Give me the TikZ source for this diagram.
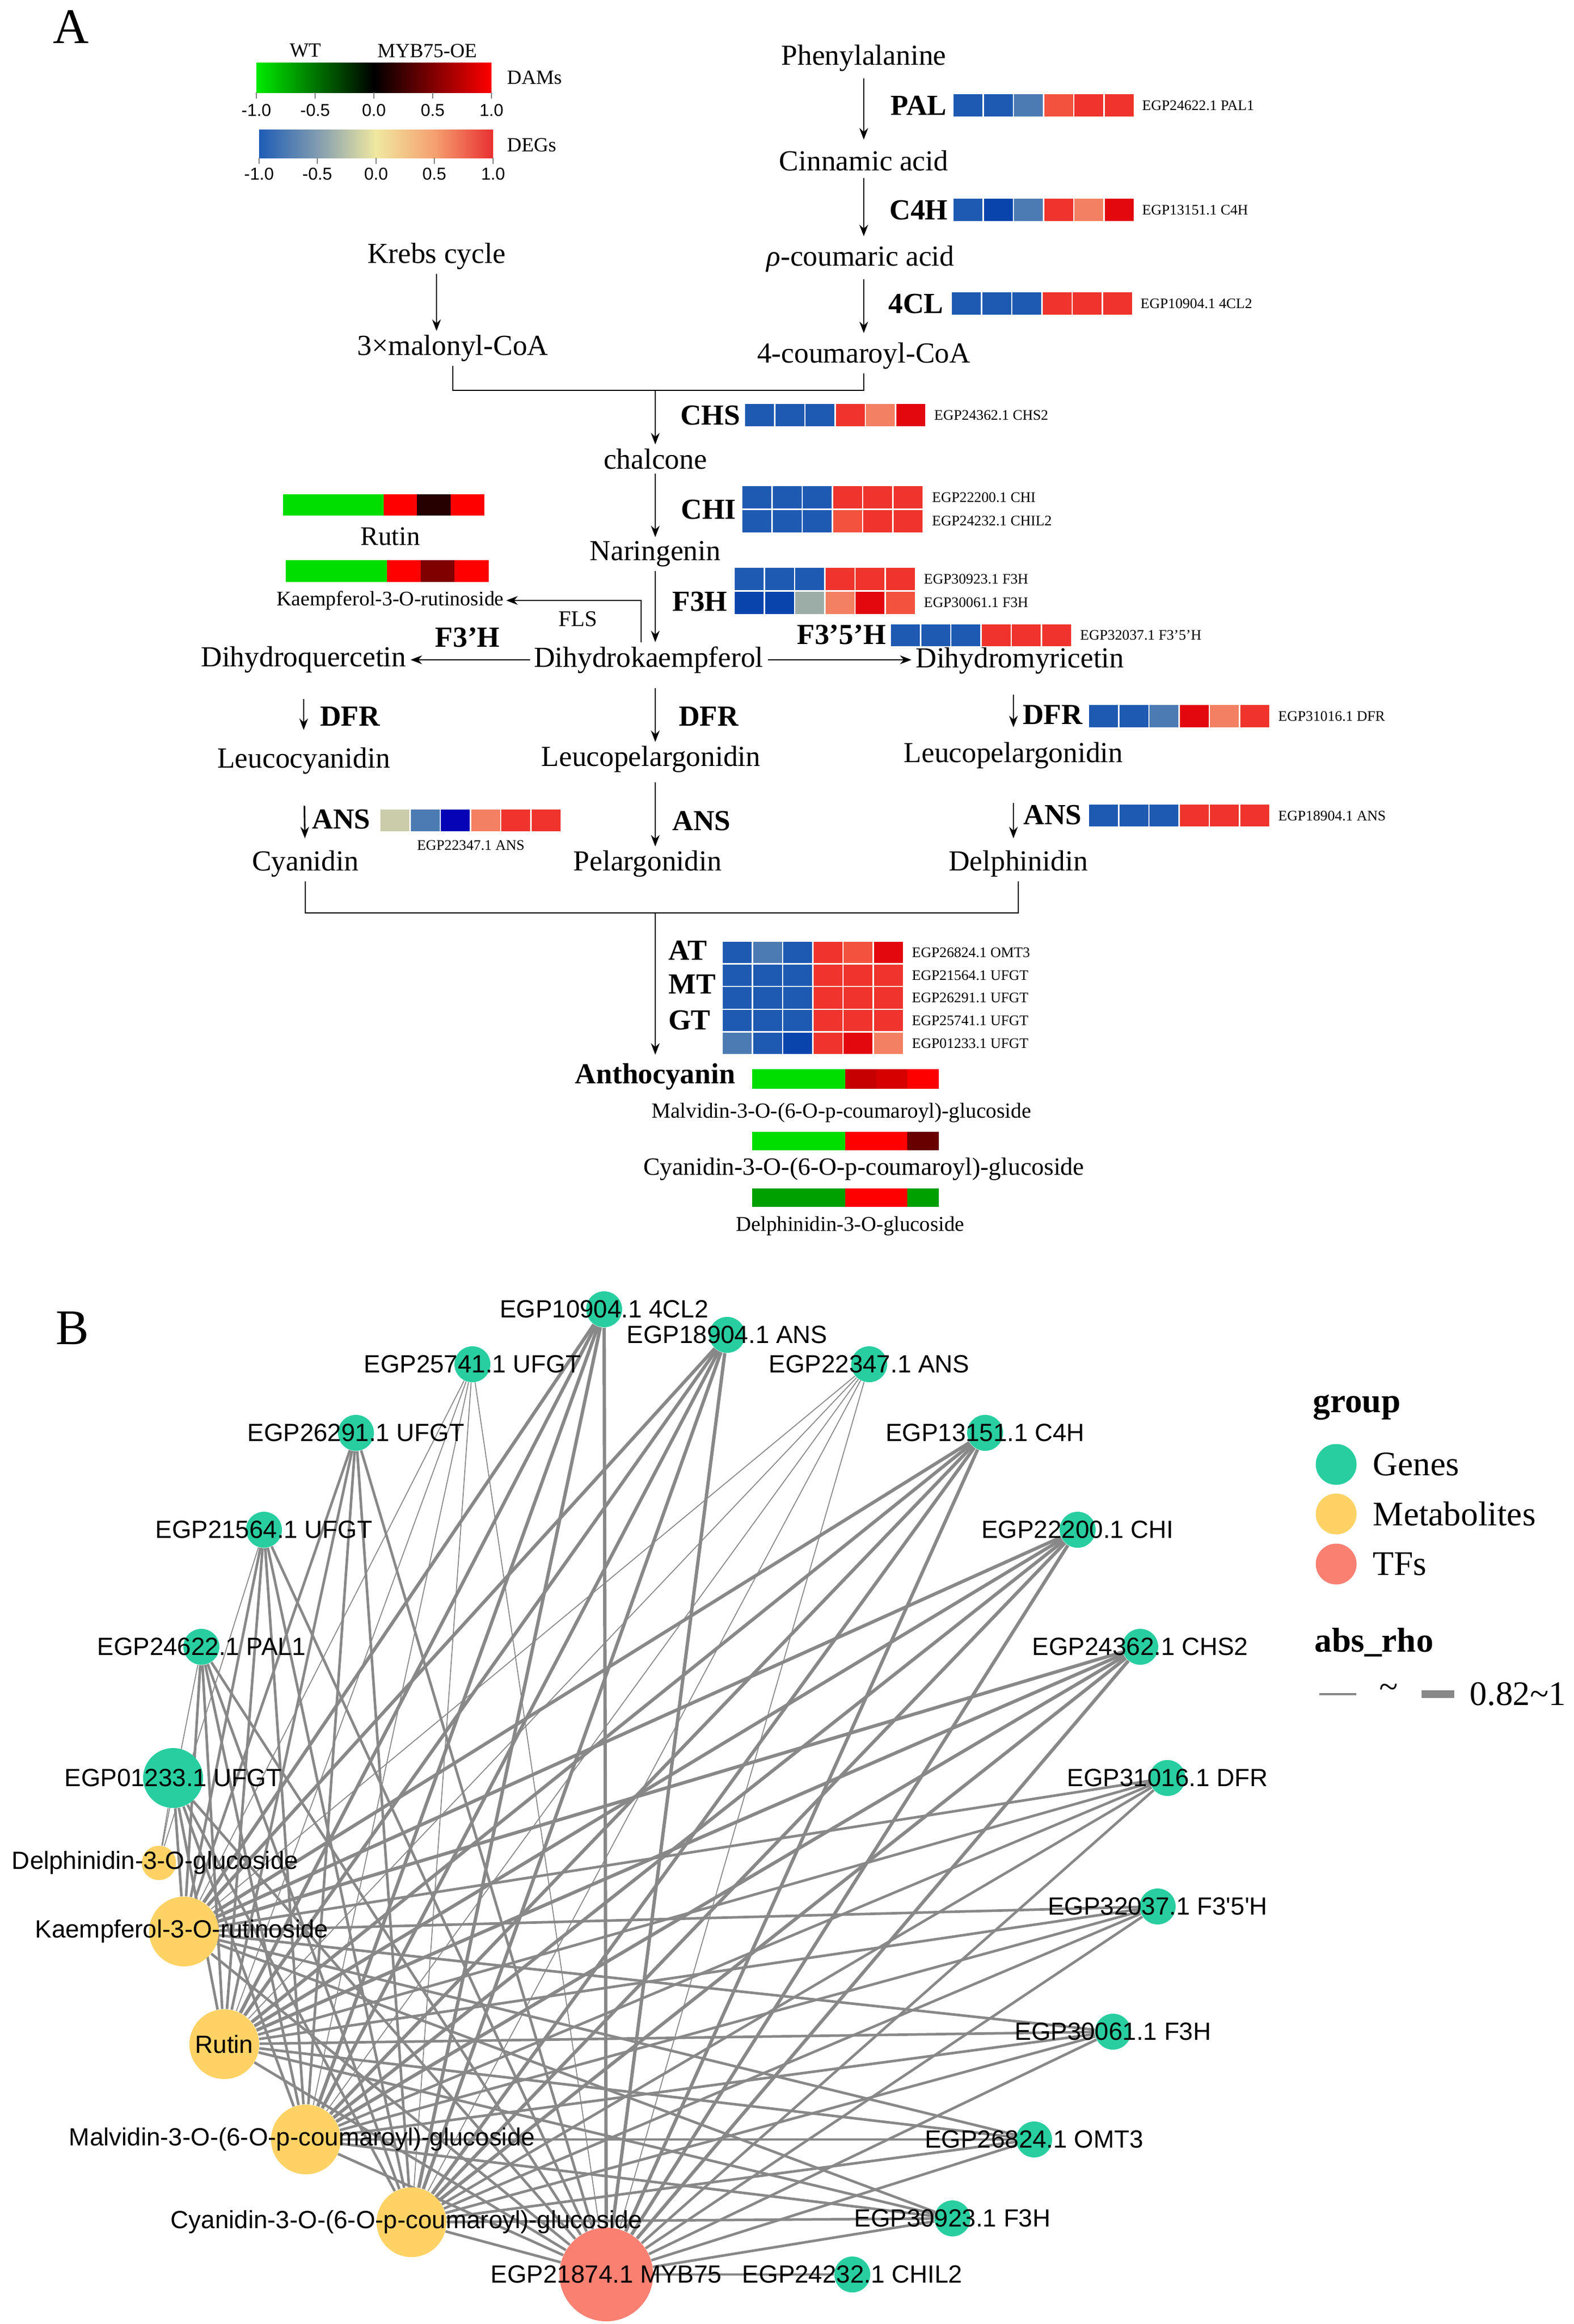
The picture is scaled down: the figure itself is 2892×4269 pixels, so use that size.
\documentclass[tikz,border=0pt]{standalone}
\usepackage{fontspec}
\setmainfont{Liberation Serif}
\newfontfamily\netfont{Liberation Sans}
\usetikzlibrary{arrows.meta,backgrounds}

% heat map colours (DEGs)
\definecolor{hmBlue}{RGB}{30,90,178}
\definecolor{hmBlueDk}{RGB}{8,68,172}
\definecolor{hmSteel}{RGB}{76,122,178}
\definecolor{hmRed}{RGB}{238,52,44}
\definecolor{hmRedOr}{RGB}{242,82,62}
\definecolor{hmSalmon}{RGB}{243,128,98}
\definecolor{hmDeep}{RGB}{226,8,14}
\definecolor{hmGrey}{RGB}{156,172,166}
\definecolor{hmKhaki}{RGB}{202,204,170}
\definecolor{hmNavy}{RGB}{4,4,182}
% metabolite colours (DAMs)
\definecolor{dmGreenL}{RGB}{0,235,0}
\definecolor{dmGreen}{RGB}{0,222,0}
\definecolor{dmGreenDk}{RGB}{0,160,0}
\definecolor{dmRed}{RGB}{255,0,0}
\definecolor{dmRedDk}{RGB}{198,0,0}
\definecolor{dmRedMd}{RGB}{214,0,0}
\definecolor{dmBlack}{RGB}{38,0,0}
\definecolor{dmMaroon}{RGB}{128,0,0}
\definecolor{dmMaroonDk}{RGB}{105,0,0}
% key colours
\definecolor{degA}{RGB}{30,92,182}
\definecolor{degB}{RGB}{128,156,176}
\definecolor{degC}{RGB}{240,232,160}
\definecolor{degD}{RGB}{245,160,112}
\definecolor{degE}{RGB}{232,48,48}
% network colours
\definecolor{geneCol}{RGB}{40,206,160}
\definecolor{metaCol}{RGB}{254,210,100}
\definecolor{tfCol}{RGB}{250,128,114}
\definecolor{edgeCol}{RGB}{136,136,136}

\newcommand{\fsMain}{\fontsize{15.2}{17}\selectfont}
\newcommand{\fsGene}{\fontsize{7.6}{9}\selectfont}
\newcommand{\fsKey}{\fontsize{10.5}{12}\selectfont}
\newcommand{\fsTick}{\netfont\fontsize{9}{10}\selectfont}
\newcommand{\fsNet}{\netfont\fontsize{13}{15}\selectfont}
\newcommand{\fsLeg}{\fontsize{18}{20}\selectfont}
\newcommand{\fsPanel}{\fontsize{26}{30}\selectfont}

% one row of a heat map: x, top y, cell height, colours
\newcommand{\heatrow}[4]{%
  \foreach \hc [count=\hi from 0] in {#4}
    \filldraw[fill=\hc, draw=white, line width=0.7pt] ({#1+55.5*\hi},#2) rectangle ++(55.5,#3);
}
% one metabolite bar: x, top y, cell width, height, colours
\newcommand{\metbar}[5]{%
  \foreach \mc [count=\mi from 0] in {#5}
    \fill[\mc] ({#1+#3*\mi},#2) rectangle ++({#3+0.8},#4);
}

\begin{document}
\begin{tikzpicture}[x=0.01cm, y=-0.01cm,
  cpd/.style={font=\fsMain, inner sep=2pt},
  enz/.style={font=\fsMain\bfseries, inner sep=1pt},
  genelab/.style={font=\fsGene, anchor=west, inner sep=0pt},
  keylab/.style={font=\fsKey, inner sep=0pt},
  ticklab/.style={font=\fsTick, inner sep=0pt},
  panel/.style={font=\fsPanel, inner sep=0pt},
  flow/.style={-{Stealth[length=6pt,width=4.5pt]}, line width=0.8pt},
  pline/.style={line width=0.8pt},
  gene/.style={circle, fill=geneCol, minimum size=0.66cm, inner sep=0pt},
  meta/.style={circle, fill=metaCol, minimum size=1.28cm, inner sep=0pt},
  tf/.style={circle, fill=tfCol, minimum size=1.72cm, inner sep=0pt},
  netlab/.style={font=\fsNet, inner sep=0pt},
  rhoThin/.style={draw=edgeCol, line width=0.5pt},
  rhoMid/.style={draw=edgeCol, line width=1.35pt},
  rhoThick/.style={draw=edgeCol, line width=1.75pt}]

\useasboundingbox (0,0) rectangle (2892,4269);

% ---------------- panel A ----------------
\node[panel] (pA) at (131,49) {A};

% colour keys
\node[keylab] (kWT) at (561,93) {WT};
\node[keylab] (kOE) at (785,93) {MYB75-OE};
\shade[left color=dmGreenL, right color=dmRed, middle color=black] (471,115) rectangle (903,170);
\node[keylab, anchor=west] (kDAM) at (931,142) {DAMs};
\foreach \tx/\tl [count=\ti] in {471/-1.0,579/-0.5,687/0.0,795/0.5,903/1.0} {
  \draw[gray, line width=0.6pt] (\tx,170) -- (\tx,181);
  \node[ticklab] (dt\ti) at (\tx,203) {\tl};
}
\shade[left color=degA, right color=degC, middle color=degB] (476,238) rectangle (691,290);
\shade[left color=degC, right color=degE, middle color=degD] (690,238) rectangle (906,290);
\node[keylab, anchor=west] (kDEG) at (931,266) {DEGs};
\foreach \tx/\tl [count=\ti] in {476/-1.0,583/-0.5,691/0.0,798/0.5,906/1.0} {
  \draw[gray, line width=0.6pt] (\tx,290) -- (\tx,301);
  \node[ticklab] (gt\ti) at (\tx,320) {\tl};
}

% phenylpropanoid branch
\node[cpd] (phe) at (1587,107) {Phenylalanine};
\node[cpd] (cin) at (1587,295) {Cinnamic acid};
\node[cpd] (coum) at (1581,476) {{\itshape ρ}-coumaric acid};
\node[cpd] (cco) at (1587,654) {4-coumaroyl-CoA};
\node[cpd] (kre) at (802,471) {Krebs cycle};
\node[cpd] (mal) at (832,640) {3×malonyl-CoA};
\draw[flow, shorten <=0.05cm, shorten >=0.12cm] (phe) -- (cin);
\draw[flow, shorten <=0.05cm, shorten >=0.1cm] (cin) -- (cin |- coum.north);
\draw[flow, shorten <=0.05cm, shorten >=0.1cm] (cin |- coum.south) -- (cco);
\draw[flow] (kre) -- (kre |- mal.north);
\node[enz] (ePAL) at (1688,194) {PAL};
\heatrow{1751}{172}{43}{hmBlue,hmBlue,hmSteel,hmRedOr,hmRed,hmRed}
\node[genelab] (gPAL) at (2098,194) {EGP24622.1 PAL1};
\node[enz] (eC4H) at (1688,386) {C4H};
\heatrow{1751}{364}{43}{hmBlue,hmBlueDk,hmSteel,hmRed,hmSalmon,hmDeep}
\node[genelab] (gC4H) at (2098,386) {EGP13151.1 C4H};
\node[enz] (e4CL) at (1683,558) {4CL};
\heatrow{1748}{536}{43}{hmBlue,hmBlue,hmBlue,hmRed,hmRed,hmRed}
\node[genelab] (g4CL) at (2095,558) {EGP10904.1 4CL2};

% joining to CHS
\coordinate (jl) at (832,717);
\coordinate (jr) at (1587,717);
\coordinate (jc) at (1204,717);
\draw[pline] (mal) -- (jl) -- (jr) -- (cco);
\node[cpd] (chal) at (1204,843) {chalcone};
\draw[flow] (jc) -- (chal);
\node[enz] (eCHS) at (1305,763) {CHS};
\heatrow{1368}{741}{43}{hmBlue,hmBlue,hmBlue,hmRed,hmSalmon,hmDeep}
\node[genelab] (gCHS) at (1716,763) {EGP24362.1 CHS2};

% CHI
\node[cpd] (nar) at (1204,1018) {Naringenin};
\draw[flow] (chal) -- (nar);
\node[enz] (eCHI) at (1302,936) {CHI};
\heatrow{1363}{892}{43.5}{hmBlue,hmBlue,hmBlue,hmRed,hmRed,hmRed}
\heatrow{1363}{935.5}{43.5}{hmBlue,hmBlue,hmBlue,hmRedOr,hmRed,hmRed}
\node[genelab] (gCHI) at (1712,914) {EGP22200.1 CHI};
\node[genelab] (gCHIL) at (1712,957) {EGP24232.1 CHIL2};

% flavonols
\node[cpd] (dhk) at (1192,1212) {Dihydrokaempferol};
\draw[flow] (nar) -- (nar |- dhk.north);
\node[enz] (eF3H) at (1286,1105) {F3H};
\heatrow{1349}{1042}{43.5}{hmBlue,hmBlue,hmBlue,hmRed,hmRed,hmRed}
\heatrow{1349}{1085.5}{43.5}{hmBlueDk,hmBlueDk,hmGrey,hmSalmon,hmDeep,hmRedOr}
\node[genelab] (gF3Ha) at (1697,1064) {EGP30923.1 F3H};
\node[genelab] (gF3Hb) at (1697,1107) {EGP30061.1 F3H};

\metbar{520}{908}{61.5}{39}{dmGreen,dmGreen,dmGreen,dmRed,dmBlack,dmRed}
\node[font=\fontsize{14}{16}\selectfont, inner sep=0pt] (rut) at (717,985) {Rutin};
\metbar{525}{1029}{62}{40}{dmGreen,dmGreen,dmGreen,dmRed,dmMaroon,dmRed}
\node[font=\fontsize{10.8}{12}\selectfont, inner sep=1pt] (kae) at (717,1103) {Kaempferol-3-O-rutinoside};
\coordinate (flsB) at (1178,1180);
\coordinate (flsT) at (1178,1103);
\draw[flow] (flsB) -- (flsT) -- (kae);
\node[font=\fontsize{11.7}{13}\selectfont, inner sep=0pt] (eFLS) at (1062,1137) {FLS};

% side branches
\node[cpd] (dhq) at (558,1212) {Dihydroquercetin};
\node[cpd] (dhm) at (1874,1214) {Dihydromyricetin};
\draw[flow] (dhk) -- (dhq);
\draw[flow] (dhk.east) -- (dhk.east -| dhm.west);
\node[enz] (eF3pH) at (859,1171) {F3’H};
\node[enz] (eF35H) at (1546,1166) {F3’5’H};
\heatrow{1636}{1146}{42}{hmBlue,hmBlue,hmBlue,hmRed,hmRed,hmRed}
\node[genelab] (gF35H) at (1984,1167) {EGP32037.1 F3’5’H};

% DFR
\node[cpd] (lcy) at (558,1398) {Leucocyanidin};
\node[cpd] (lpg) at (1196,1395) {Leucopelargonidin};
\node[cpd] (lpgB) at (1862,1388) {Leucopelargonidin};
\draw[flow, shorten <=0.4cm, shorten >=0.25cm] (dhq) -- (lcy);
\draw[flow, shorten <=0.2cm] (nar |- dhk.south) -- (nar |- lpg.north);
\draw[flow, shorten <=0.3cm, shorten >=0.2cm] (dhm.south -| lpgB) -- (lpgB);
\node[enz] (eDFRa) at (643,1316) {DFR};
\node[enz] (eDFRb) at (1302,1316) {DFR};
\node[enz] (eDFRc) at (1934,1313) {DFR};
\heatrow{2000}{1294}{43}{hmBlue,hmBlue,hmSteel,hmDeep,hmSalmon,hmRed}
\node[genelab] (gDFR) at (2348,1316) {EGP31016.1 DFR};

% ANS
\node[cpd] (cyd) at (561,1587) {Cyanidin};
\node[cpd] (pel) at (1190,1587) {Pelargonidin};
\node[cpd] (dpd) at (1871,1587) {Delphinidin};
\draw[flow, shorten <=0.5cm, shorten >=0.15cm] (lcy) -- (cyd);
\draw[flow, shorten <=0.1cm] (nar |- lpg.south) -- (nar |- pel.north);
\draw[flow, shorten <=0.55cm, shorten >=0.15cm] (lpgB) -- (lpgB |- dpd.north);
\node[enz] (eANSa) at (627,1505) {ANS};
\node[enz] (eANSb) at (1289,1508) {ANS};
\node[enz] (eANSc) at (1934,1497) {ANS};
\heatrow{698}{1486}{42}{hmKhaki,hmSteel,hmNavy,hmSalmon,hmRed,hmRed}
\node[font=\fsGene, inner sep=0pt] (gANSa) at (865,1553) {EGP22347.1 ANS};
\heatrow{2000}{1477}{42}{hmBlue,hmBlue,hmBlue,hmRed,hmRed,hmRed}
\node[genelab] (gANSc) at (2348,1499) {EGP18904.1 ANS};

% anthocyanin
\coordinate (bl) at (561,1677);
\coordinate (br) at (1871,1677);
\coordinate (bc) at (1204,1677);
\draw[pline] (cyd) -- (bl) -- (br) -- (dpd);
\node[enz] (ant) at (1204,1978) {Anthocyanin};
\draw[flow, shorten >=0.12cm] (bc) -- (ant);
\node[enz] (eAT) at (1264,1746) {AT};
\node[enz] (eMT) at (1272,1808) {MT};
\node[enz] (eGT) at (1267,1874) {GT};
\heatrow{1327}{1729}{41.6}{hmBlue,hmSteel,hmBlue,hmRed,hmRedOr,hmDeep}
\heatrow{1327}{1770.6}{41.6}{hmBlue,hmBlue,hmBlue,hmRed,hmRed,hmRed}
\heatrow{1327}{1812.2}{41.6}{hmBlue,hmBlue,hmBlue,hmRed,hmRed,hmRed}
\heatrow{1327}{1853.8}{41.6}{hmBlue,hmBlue,hmBlue,hmRed,hmRed,hmRed}
\heatrow{1327}{1895.4}{41.6}{hmSteel,hmBlue,hmBlueDk,hmRed,hmDeep,hmSalmon}
\node[genelab] (gOMT) at (1675,1750) {EGP26824.1 OMT3};
\node[genelab] (gUFa) at (1675,1792) {EGP21564.1 UFGT};
\node[genelab] (gUFb) at (1675,1833) {EGP26291.1 UFGT};
\node[genelab] (gUFc) at (1675,1875) {EGP25741.1 UFGT};
\node[genelab] (gUFd) at (1675,1917) {EGP01233.1 UFGT};

\metbar{1382}{1964}{57}{36}{dmGreen,dmGreen,dmGreen,dmRedDk,dmRedMd,dmRed}
\node[font=\fontsize{11.2}{13}\selectfont, inner sep=0pt] (amal) at (1546,2044) {Malvidin-3-O-(6-O-p-coumaroyl)-glucoside};
\metbar{1382}{2079}{57}{34}{dmGreen,dmGreen,dmGreen,dmRed,dmRed,dmMaroonDk}
\node[font=\fontsize{13}{15}\selectfont, inner sep=0pt] (acya) at (1587,2148) {Cyanidin-3-O-(6-O-p-coumaroyl)-glucoside};
\metbar{1382}{2183}{57}{34}{dmGreenDk,dmGreenDk,dmGreenDk,dmRed,dmRed,dmGreenDk}
\node[font=\fontsize{11}{13}\selectfont, inner sep=0pt] (adel) at (1562,2252) {Delphinidin-3-O-glucoside};

% ---------------- panel B ----------------
\node[panel] (pB) at (133,2440) {B};

% network nodes
\node[gene] (g10904) at (1110,2405) {};
\node[gene] (g18904) at (1336,2452) {};
\node[gene] (g25741) at (868,2506) {};
\node[gene] (g22347) at (1597,2506) {};
\node[gene] (g26291) at (654,2632) {};
\node[gene] (g13151) at (1810,2632) {};
\node[gene] (g21564) at (485,2810) {};
\node[gene] (g22200) at (1980,2810) {};
\node[gene] (g24622) at (370,3025) {};
\node[gene] (g24362) at (2095,3025) {};
\node[gene, minimum size=1.1cm] (g01233) at (318,3266) {};
\node[gene] (g31016) at (2145,3266) {};
\node[meta, minimum size=0.63cm] (mdel) at (292,3422) {};
\node[gene] (g32037) at (2127,3502) {};
\node[meta] (mkae) at (338,3548) {};
\node[gene] (g30061) at (2045,3732) {};
\node[meta] (mrut) at (412,3755) {};
\node[meta] (mmal) at (562,3930) {};
\node[gene] (g26824) at (1900,3930) {};
\node[gene] (g30923) at (1750,4075) {};
\node[meta] (mcya) at (756,4082) {};
\node[tf] (tmyb) at (1114,4178) {};
\node[gene] (g24232) at (1566,4178) {};

% network edges
\begin{pgfonlayer}{background}
\foreach \g in {g26291,g21564,g24622,g01233,g31016,g32037,g30061,g26824,g30923}
  \foreach \m in {mkae,mrut,mmal,mcya,tmyb}
    \draw[rhoMid] (\g) -- (\m);
\foreach \g in {g10904,g18904,g13151,g22200,g24362}
  \foreach \m in {mkae,mrut,mmal,mcya,tmyb}
    \draw[rhoThick] (\g) -- (\m);
\foreach \g in {g25741,g22347}
  \foreach \m in {mkae,mrut,mmal,mcya,tmyb}
    \draw[rhoThin] (\g) -- (\m);
\foreach \g in {g01233,g24622,g21564}
  \draw[rhoThin] (\g) -- (mdel);
\foreach \m in {mkae,mrut,mmal,mcya}
  \draw[rhoMid] (tmyb) -- (\m);
\draw[rhoMid] (tmyb) -- (g24232);
\end{pgfonlayer}

% network labels
\node[netlab] (l10904) at (g10904) {EGP10904.1 4CL2};
\node[netlab] (l18904) at (g18904) {EGP18904.1 ANS};
\node[netlab] (l25741) at (g25741) {EGP25741.1 UFGT};
\node[netlab] (l22347) at (g22347) {EGP22347.1 ANS};
\node[netlab] (l26291) at (g26291) {EGP26291.1 UFGT};
\node[netlab] (l13151) at (g13151) {EGP13151.1 C4H};
\node[netlab] (l21564) at (g21564) {EGP21564.1 UFGT};
\node[netlab] (l22200) at (g22200) {EGP22200.1 CHI};
\node[netlab] (l24622) at (g24622) {EGP24622.1 PAL1};
\node[netlab] (l24362) at (g24362) {EGP24362.1 CHS2};
\node[netlab] (l01233) at (g01233) {EGP01233.1 UFGT};
\node[netlab] (l31016) at (g31016) {EGP31016.1 DFR};
\node[netlab] (ldel) at (285,3422) {Delphinidin-3-O-glucoside};
\node[netlab] (l32037) at (g32037) {EGP32037.1 F3\textquotesingle5\textquotesingle H};
\node[netlab] (lkae) at (334,3548) {Kaempferol-3-O-rutinoside};
\node[netlab] (l30061) at (g30061) {EGP30061.1 F3H};
\node[netlab] (lrut) at (mrut) {Rutin};
\node[netlab] (lmal) at (555,3930) {Malvidin-3-O-(6-O-p-coumaroyl)-glucoside};
\node[netlab] (l26824) at (g26824) {EGP26824.1 OMT3};
\node[netlab] (l30923) at (g30923) {EGP30923.1 F3H};
\node[netlab] (lcya) at (747,4082) {Cyanidin-3-O-(6-O-p-coumaroyl)-glucoside};
\node[netlab] (lmyb) at (tmyb) {EGP21874.1 MYB75};
\node[netlab] (l24232) at (g24232) {EGP24232.1 CHIL2};

% legend
\node[font=\fsLeg\bfseries, inner sep=0pt] (lgGroup) at (2493,2585) {group};
\node[gene, minimum size=0.75cm] (lgG) at (2455,2690) {};
\node[meta, minimum size=0.75cm] (lgM) at (2455,2781) {};
\node[tf, minimum size=0.75cm] (lgT) at (2455,2873) {};
\node[font=\fsLeg, anchor=west, inner sep=0pt] (lgGt) at (2522,2690) {Genes};
\node[font=\fsLeg, anchor=west, inner sep=0pt] (lgMt) at (2522,2781) {Metabolites};
\node[font=\fsLeg, anchor=west, inner sep=0pt] (lgTt) at (2522,2873) {TFs};
\node[font=\fsLeg\bfseries, anchor=west, inner sep=0pt] (lgRho) at (2415,3017) {abs\_rho};
\coordinate (rhoA) at (2424,3112);
\coordinate (rhoB) at (2492,3112);
\coordinate (rhoC) at (2612,3112);
\coordinate (rhoD) at (2672,3112);
\draw[draw=edgeCol, line width=0.9pt] (rhoA) -- (rhoB);
\node[font=\fsLeg, inner sep=0pt] (lgTil) at (2552,3106) {\textasciitilde};
\draw[draw=edgeCol, line width=4pt] (rhoC) -- (rhoD);
\node[font=\fsLeg, anchor=west, inner sep=0pt] (lgVal) at (2700,3112) {0.82\textasciitilde1};

\end{tikzpicture}
\end{document}
